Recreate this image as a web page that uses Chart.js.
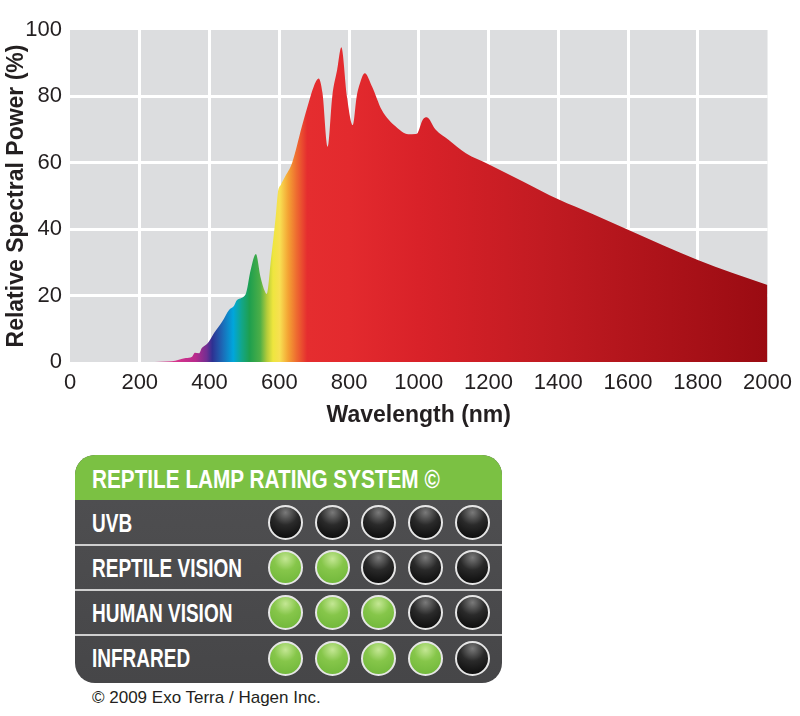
<!DOCTYPE html>
<html>
<head>
<meta charset="utf-8">
<script src="https://cdn.jsdelivr.net/npm/chart.js@4.4.1/dist/chart.umd.min.js"></script>
<style>
  body { margin: 0; background: #fff; width: 800px; height: 716px; position: relative; overflow: hidden; }
  #chartWrap { position: absolute; left: 0; top: 0; width: 800px; height: 430px; }
  .panel {
    position: absolute; left: 75px; top: 455px; width: 427px; height: 228px;
    background: linear-gradient(180deg, #505052 0%, #464648 100%);
    border-radius: 20px; overflow: hidden;
    font-family: 'Liberation Sans', Arial, sans-serif;
    font-weight: bold; color: #fff; white-space: nowrap;
  }
  .panel .head { height: 45px; background: #7bc143; }
  .panel .head span {
    position: absolute; left: 17px; top: 0; font-size: 25px; line-height: 48px;
    display: inline-block; transform: scaleX(0.83); transform-origin: left center;
  }
  .panel .row { position: absolute; left: 0; width: 100%; height: 45px; }
  .panel .row .lbl {
    position: absolute; left: 17px; top: 0; font-size: 25px; line-height: 46px;
    display: inline-block; transform: scaleX(0.76); transform-origin: left center;
  }
  .panel .sep { position: absolute; left: 0; width: 100%; height: 2px; background: #cfcfcf; }
  .dot {
    position: absolute; width: 35px; height: 35px; border-radius: 50%;
    border: 2px solid #e6e6e6; box-sizing: border-box;
  }
  .dot.on { background: radial-gradient(circle at 50% 22%, #c4e794 0%, #86c64a 40%, #6cb437 100%); }
  .dot.off { background: radial-gradient(circle at 50% 18%, #7a7a7a 0%, #2a2a2a 42%, #050505 100%); }
  .copy {
    position: absolute; left: 92px; top: 688px; font-family: 'Liberation Sans', Arial, sans-serif;
    font-size: 17px; color: #231f20;
  }
</style>
</head>
<body>
<div id="chartWrap"><canvas id="spectrumChart"></canvas></div>
<div class="panel" id="panel">
  <div class="head"><span>REPTILE LAMP RATING SYSTEM ©</span></div>
</div>
<div class="copy">© 2009 Exo Terra / Hagen Inc.</div>
<script>
// wavelength (nm) and relative spectral power (%)
const wavelengths = [
  226, 260, 292, 332, 350, 358, 370, 378, 390, 398, 413, 436, 456, 470, 479,
  504, 518, 533, 546, 559, 564, 576, 590, 596, 605, 615, 637, 665, 685, 699,
  713, 724, 739, 752, 766, 778, 794, 811, 822, 833, 845, 866, 894, 934, 970,
  991, 997, 1011, 1023, 1048, 1086, 1135, 1200, 1300, 1400, 1500, 1600, 1700,
  1800, 1900, 2000
];
const powerValues = [
  0, 0.1, 0.2, 1.2, 1.6, 2.8, 2.6, 4.2, 5.2, 6.1, 8.7, 12.1, 15.7, 16.9, 18.7,
  20.5, 27.7, 32.5, 25.7, 21.2, 20.5, 30.7, 44, 51, 53.5, 55.5, 60, 71, 78.4, 83,
  85.4, 81, 64.8, 80, 88, 94.8, 80, 71.4, 80, 84.5, 87, 83, 75.9, 70.9, 68.6,
  68.7, 69, 72.9, 73.7, 70, 66.9, 62.9, 59.6, 54.3, 49, 44.5, 39.8, 35.2,
  30.7, 26.8, 23.2
];
const xTicks = [0, 200, 400, 600, 800, 1000, 1200, 1400, 1600, 1800, 2000];
const yTicks = [0, 20, 40, 60, 80, 100];

// colour stops of the spectrum fill, by wavelength
const stopNm = [0, 300, 360, 392, 408, 440, 468, 492, 515, 545, 565, 582, 602, 625, 650, 680, 800, 1000, 1400, 2000];
const stopColors = [
  '#d8358c', '#d8358c', '#b82a8c', '#712e92', '#2e3192', '#1a6fba', '#00a6dc', '#12a68a',
  '#1e9f4e', '#4cae47', '#b5cc3a', '#eee63e', '#f8df52', '#f4a434', '#ee6a30', '#e52d2f',
  '#e32a2e', '#d92229', '#bf1a21', '#9a0b12'
];

const tickFont = { family: "'Liberation Sans', Arial, sans-serif", size: 22 };
const titleFont = { family: "'Liberation Sans', Arial, sans-serif", size: 23, weight: 'bold' };

const plotBackground = {
  id: 'plotBackground',
  beforeDraw(chart) {
    const { ctx, chartArea } = chart;
    ctx.save();
    ctx.fillStyle = '#dcdddf';
    ctx.fillRect(chartArea.left, chartArea.top, chartArea.right - chartArea.left, chartArea.bottom - chartArea.top);
    ctx.restore();
  }
};

function spectrumFill(context) {
  const chart = context.chart;
  if (!chart.chartArea) return '#e32a2e';
  const xs = chart.scales.x;
  const x0 = xs.getPixelForValue(0);
  const x1 = xs.getPixelForValue(2000);
  const g = chart.ctx.createLinearGradient(x0, 0, x1, 0);
  stopNm.forEach((nm, i) => g.addColorStop(nm / 2000, stopColors[i]));
  return g;
}

// hide the grid lines on the frame edges
const innerGrid = (ctx) => (ctx.index === 0 || ctx.index === ctx.chart.scales[ctx.scale.id].ticks.length - 1) ? 'rgba(0,0,0,0)' : '#ffffff';

new Chart(document.getElementById('spectrumChart'), {
  type: 'line',
  data: {
    datasets: [{
      data: wavelengths.map((w, i) => ({ x: w, y: powerValues[i] })),
      fill: 'origin',
      backgroundColor: spectrumFill,
      borderWidth: 0,
      pointRadius: 0,
      cubicInterpolationMode: 'monotone'
    }]
  },
  options: {
    responsive: true,
    maintainAspectRatio: false,
    animation: false,
    layout: { padding: { top: 30, right: 30, left: 0, bottom: 0 } },
    plugins: { legend: { display: false }, tooltip: { enabled: false } },
    scales: {
      x: {
        type: 'linear', min: 0, max: 2000, z: 1,
        afterBuildTicks: (s) => { s.ticks = xTicks.map(v => ({ value: v })); },
        afterFit: (s) => { s.height = 68; },
        grid: { color: innerGrid, lineWidth: 3, drawTicks: false },
        border: { display: false },
        ticks: { color: '#231f20', font: tickFont, padding: 8, maxRotation: 0, callback: (v) => String(v) },
        title: { display: true, text: 'Wavelength (nm)', color: '#231f20', font: titleFont, padding: { top: 0, bottom: 1 } }
      },
      y: {
        type: 'linear', min: 0, max: 100, z: 1,
        afterBuildTicks: (s) => { s.ticks = yTicks.map(v => ({ value: v })); },
        afterFit: (s) => { s.width = 70; },
        grid: { color: innerGrid, lineWidth: 3, drawTicks: false },
        border: { display: false },
        ticks: { color: '#231f20', font: tickFont, padding: 8, callback: (v) => String(v) },
        title: { display: true, text: 'Relative Spectral Power (%)', color: '#231f20', font: titleFont, padding: { top: 3, bottom: 0 } }
      }
    }
  },
  plugins: [plotBackground]
});

// lamp rating rows: number of lit dots out of five
const ratingLabels = ['UVB', 'REPTILE VISION', 'HUMAN VISION', 'INFRARED'];
const ratingScores = [0, 2, 3, 4];
const ratingMax = 5;

const panel = document.getElementById('panel');
ratingLabels.forEach((label, r) => {
  const top = 45 + r * 45;
  if (r > 0) {
    const sep = document.createElement('div');
    sep.className = 'sep';
    sep.style.top = (top - 1) + 'px';
    panel.appendChild(sep);
  }
  const row = document.createElement('div');
  row.className = 'row';
  row.style.top = top + 'px';
  row.innerHTML = '<div class="lbl">' + label + '</div>';
  for (let i = 0; i < ratingMax; i++) {
    const d = document.createElement('div');
    d.className = 'dot ' + (i < ratingScores[r] ? 'on' : 'off');
    d.style.left = (210 - 17 + i * 46.7) + 'px';
    d.style.top = (22 - 17 + (r === 3 ? 1 : 0)) + 'px';
    row.appendChild(d);
  }
  panel.appendChild(row);
});
</script>
</body>
</html>
